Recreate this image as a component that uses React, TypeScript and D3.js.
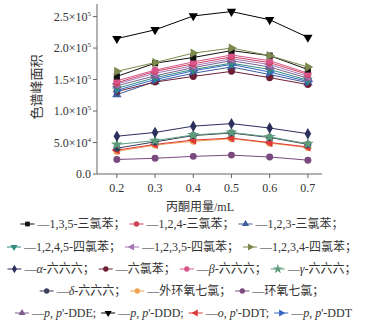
import React, { useEffect, useRef } from "react";
import * as d3 from "d3";

const xValues = [0.2, 0.3, 0.4, 0.5, 0.6, 0.7];
const yTicks = [0, 50000, 100000, 150000, 200000, 250000];
const yTickMantissa = ["0.0", "5.0", "1.0", "1.5", "2.0", "2.5"];
const yTickExp = ["", "4", "5", "5", "5", "5"];

const seriesNames = [
  "1,3,5-三氯苯", "1,2,4-三氯苯", "1,2,3-三氯苯",
  "1,2,4,5-四氯苯", "1,2,3,5-四氯苯", "1,2,3,4-四氯苯",
  "α-六六六", "六氯苯", "β-六六六", "γ-六六六",
  "δ-六六六", "外环氧七氯", "环氧七氯",
  "p,p'-DDE", "p,p'-DDD", "o,p'-DDT", "p,p'-DDT",
];
const s135 = [155000, 176000, 185000, 196000, 188000, 166000];
const s124 = [145000, 163000, 175000, 186000, 177000, 158000];
const s123 = [126000, 147000, 160000, 170000, 158000, 145000];
const s1245 = [136000, 153000, 166000, 176000, 166000, 149000];
const s1235 = [143000, 160000, 172000, 183000, 174000, 155000];
const s1234 = [163000, 177000, 192000, 200000, 188000, 170000];
const sAlpha = [60000, 66000, 76000, 80000, 73000, 64000];
const sHCB = [131000, 146000, 155000, 163000, 153000, 142000];
const sBeta = [148000, 165000, 178000, 189000, 180000, 160000];
const sGamma = [47000, 53000, 62000, 66000, 59000, 48000];
const sDelta = [41000, 51000, 61000, 65000, 58000, 47000];
const sExoEpox = [36000, 46000, 52000, 56000, 49000, 42000];
const sEpox = [23000, 25000, 28000, 30000, 27000, 22000];
const sDDE = [140000, 156000, 169000, 180000, 170000, 152000];
const sDDD = [215000, 229000, 251000, 258000, 245000, 217000];
const sOPDDT = [38000, 47000, 54000, 57000, 50000, 43000];
const sPPDDT = [133000, 150000, 164000, 174000, 162000, 147000];

const seriesValues = [
  s135, s124, s123, s1245, s1235, s1234, sAlpha, sHCB, sBeta, sGamma,
  sDelta, sExoEpox, sEpox, sDDE, sDDD, sOPDDT, sPPDDT,
];
const seriesColors = [
  "#111111", "#d0405a", "#3d5f9a", "#2f8c7e", "#a474b4", "#7b8a4c",
  "#2c2f5c", "#6e1f33", "#d8548a", "#5e9c7c",
  "#3b3f5e", "#f0a050", "#7a4a7e",
  "#7d5f8f", "#000000", "#e0383a", "#3566c4",
];
// symbol type, rotation
const seriesMarkers: [string, number][] = [
  ["square", 0], ["circle", 0], ["triangle", 0],
  ["triangle", 180], ["triangle", -90], ["triangle", 90],
  ["diamond", 0], ["circle", 0], ["circle", 0], ["star", 0],
  ["circle", 0], ["circle", 0], ["circle", 0],
  ["triangle", 0], ["triangle", 180], ["triangle", -90], ["triangle", 90],
];
const legendRows = [
  [0, 1, 2],
  [3, 4, 5],
  [6, 7, 8, 9],
  [10, 11, 12],
  [13, 14, 15, 16],
];
const drawOrder = [12, 11, 15, 10, 9, 6, 2, 7, 16, 3, 13, 4, 1, 8, 0, 5, 14];

const symMap: Record<string, d3.SymbolType> = {
  square: d3.symbolSquare,
  circle: d3.symbolCircle,
  triangle: d3.symbolTriangle,
  diamond: d3.symbolDiamond,
  star: d3.symbolStar,
};

const W = 372;
const H = 322;

function nameParts(name: string): { t: string; italic: boolean }[] {
  const mm = name.match(/^([po]),\s?([po])(.*)$/);
  if (mm) {
    return [
      { t: mm[1], italic: true },
      { t: ", ", italic: false },
      { t: mm[2], italic: true },
      { t: mm[3], italic: false },
    ];
  }
  const m = name.match(/^([αβγδ])(.*)$/);
  if (m) {
    return [
      { t: m[1], italic: true },
      { t: m[2], italic: false },
    ];
  }
  return [{ t: name, italic: false }];
}

export default function App() {
  const ref = useRef<SVGSVGElement | null>(null);

  useEffect(() => {
    const svg = d3.select(ref.current);
    svg.selectAll("*").remove();

    const x = d3.scaleLinear().domain([0.148, 0.737]).range([97, 322]);
    const y = d3.scaleLinear().domain([0, 270000]).range([174, 4]);
    const axisColor = "#666";
    const textColor = "#333";
    const serif = "'Liberation Serif', 'DejaVu Serif', serif";
    const cjk = "'Liberation Serif', 'Noto Sans CJK SC', serif";

    // axes
    const g = svg.append("g");
    g.append("line").attr("x1", 97).attr("x2", 97).attr("y1", y(270000)).attr("y2", y(0))
      .attr("stroke", axisColor).attr("stroke-width", 1);
    g.append("line").attr("x1", 97).attr("x2", 322).attr("y1", y(0)).attr("y2", y(0))
      .attr("stroke", axisColor).attr("stroke-width", 1);

    yTicks.forEach((v, i) => {
      const yy = y(v);
      g.append("line").attr("x1", 93).attr("x2", 97).attr("y1", yy).attr("y2", yy)
        .attr("stroke", axisColor);
      const t = g.append("text").attr("x", 91).attr("y", yy + 4)
        .attr("text-anchor", "end").attr("font-family", serif).attr("font-size", 12)
        .attr("fill", textColor);
      if (yTickExp[i]) {
        t.append("tspan").text(yTickMantissa[i] + "×10");
        t.append("tspan").attr("font-size", 7).attr("dy", -5).text(yTickExp[i]);
      } else {
        t.text(yTickMantissa[i]);
      }
    });

    xValues.forEach((v) => {
      const xx = x(v);
      g.append("line").attr("x1", xx).attr("x2", xx).attr("y1", y(0)).attr("y2", y(0) + 4)
        .attr("stroke", axisColor);
      g.append("text").attr("x", xx).attr("y", 192).attr("text-anchor", "middle")
        .attr("font-family", serif).attr("font-size", 12).attr("fill", textColor)
        .text(v.toFixed(1));
    });

    g.append("text").attr("x", 200).attr("y", 211).attr("text-anchor", "middle")
      .attr("font-family", cjk).attr("font-size", 12).attr("fill", textColor)
      .text("丙酮用量/mL");

    g.append("text").attr("transform", "translate(41,87) rotate(-90)")
      .attr("text-anchor", "middle").attr("font-family", cjk).attr("font-size", 13)
      .attr("fill", textColor).text("色谱峰面积");

    // series
    const line = d3.line<number>().x((_, i) => x(xValues[i])).y((d) => y(d));
    const plot = svg.append("g");
    drawOrder.forEach((si) => {
      const vals = seriesValues[si];
      const col = seriesColors[si];
      plot.append("path").attr("d", line(vals) as string).attr("fill", "none")
        .attr("stroke", col).attr("stroke-width", 1);
      const [sym, rot] = seriesMarkers[si];
      const p = d3.symbol().type(symMap[sym]).size(sym === "star" ? 45 : 38)();
      vals.forEach((v, i) => {
        plot.append("path").attr("d", p as string)
          .attr("transform", `translate(${x(xValues[i])},${y(v)}) rotate(${rot})`)
          .attr("fill", col);
      });
    });

    // legend
    const rowY = [224, 247, 269, 291, 313];
    const leg = svg.append("g");
    legendRows.forEach((row, ri) => {
      const rg = leg.append("g");
      let cx = 0;
      row.forEach((si, k) => {
        const col = seriesColors[si];
        const ig = rg.append("g").attr("transform", `translate(${cx},0)`);
        ig.append("line").attr("x1", 0).attr("x2", 14).attr("y1", 0).attr("y2", 0)
          .attr("stroke", col).attr("stroke-width", 1);
        const [sym, rot] = seriesMarkers[si];
        const p = d3.symbol().type(symMap[sym]).size(sym === "star" ? 30 : 22)();
        ig.append("path").attr("d", p as string)
          .attr("transform", `translate(7,0) rotate(${rot})`).attr("fill", col);
        const t = ig.append("text").attr("x", 17).attr("y", 4)
          .attr("font-family", cjk).attr("font-size", 12).attr("fill", textColor);
        t.append("tspan").text("—");
        nameParts(seriesNames[si]).forEach((pp) => {
          const ts = t.append("tspan").text(pp.t);
          if (pp.italic) ts.attr("font-style", "italic");
        });
        const last = k === row.length - 1;
        const isLatin = ri === 4;
        if (!(ri === 4 && last)) t.append("tspan").text(isLatin ? ";" : "；");
        const w = 17 + (t.node() as SVGTextElement).getComputedTextLength();
        cx += w + (isLatin ? 5 : 4);
      });
      const total = cx;
      const center = ri === 4 ? 186 : 184;
      rg.attr("transform", `translate(${center - total / 2},${rowY[ri]})`);
    });
  }, []);

  return (
    <svg
      ref={ref}
      width={W}
      height={H}
      style={{ display: "block", background: "#fff", position: "absolute", left: 0, top: 0 }}
    />
  );
}
